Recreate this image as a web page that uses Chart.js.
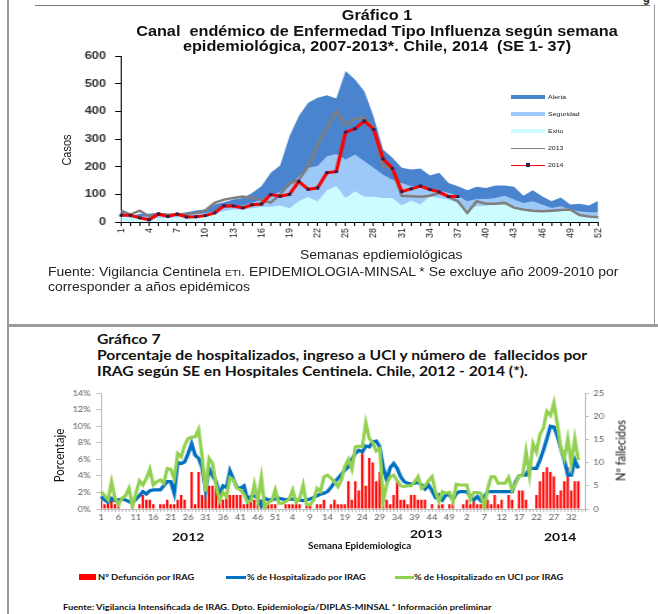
<!DOCTYPE html>
<html><head><meta charset="utf-8">
<script src="https://cdn.jsdelivr.net/npm/chart.js@4.4.0/dist/chart.umd.min.js"></script>
<style>
body{margin:0;background:#fff;width:658px;height:614px;position:relative;overflow:hidden;font-family:"Liberation Sans",Arial,sans-serif;}
.a{position:absolute;white-space:nowrap;}
.sx{transform:scaleX(1.16);transform-origin:0 50%;}
canvas{position:absolute;transform:scaleX(1.1605);transform-origin:0 0;}
.t1{font-weight:bold;font-size:14px;color:#111;text-align:center;left:77px;width:600px;transform:scaleX(1.16);transform-origin:50% 50%;}
.t2{font-family:Lato,"Open Sans",sans-serif;font-weight:bold;font-size:13.5px;color:#111;left:97px;}
.lg1{font-size:6px;color:#222;}
.lg2{font-family:Lato,sans-serif;font-weight:bold;font-size:8px;color:#111;}
.rot{transform:scaleX(1.16) rotate(-90deg);transform-origin:50% 50%;text-align:center;}
</style></head><body>
<!-- borders -->
<div class="a" style="left:7px;top:0;width:2px;height:614px;background:#9a9a9a"></div>
<div class="a" style="left:35px;top:5px;width:615px;height:1px;background:#777"></div>
<div class="a" style="left:654px;top:5px;width:1px;height:320px;background:#999"></div>
<div class="a" style="left:7px;top:324px;width:651px;height:3px;background:#9a9a9a"></div>
<div class="a" style="left:643px;top:-6px;font-weight:bold;font-size:12px;color:#333">9</div>

<canvas id="c1" width="567" height="270" style="left:0;top:0"></canvas>
<canvas id="c2" width="567" height="150" style="left:0;top:380px"></canvas>

<div class="a t1" style="top:7px">Gráfico 1</div>
<div class="a t1" style="top:23px">Canal&nbsp; endémico de Enfermedad Tipo Influenza según semana</div>
<div class="a t1" style="top:38px">epidemiológica, 2007-2013*. Chile, 2014&nbsp; (SE 1- 37)</div>

<div class="a rot" style="left:46px;top:144px;width:40px;font-size:11px;color:#222">Casos</div>
<div class="a sx" style="left:300px;top:248px;font-size:12px;color:#222">Semanas epdiemiológicas</div>
<div class="a sx" style="left:48px;top:265px;font-size:12px;color:#222">Fuente: Vigilancia Centinela <span style="font-size:9px">ETI</span>. EPIDEMIOLOGIA-MINSAL * Se excluye año 2009-2010 por</div>
<div class="a sx" style="left:48px;top:280px;font-size:12px;color:#222">corresponder a años epidémicos</div>

<!-- legend chart 1 -->
<div class="a" style="left:511px;top:95px;width:34px;height:4px;background:#4a84cf"></div>
<div class="a lg1 sx" style="left:548px;top:94px">Alerta</div>
<div class="a" style="left:511px;top:112px;width:34px;height:4px;background:#9cc9f7"></div>
<div class="a lg1 sx" style="left:548px;top:111px">Seguridad</div>
<div class="a" style="left:511px;top:129px;width:34px;height:4px;background:#ccfcff"></div>
<div class="a lg1 sx" style="left:548px;top:128px">Exito</div>
<div class="a" style="left:511px;top:148px;width:34px;height:1px;background:#808080"></div>
<div class="a lg1 sx" style="left:548px;top:145px">2013</div>
<div class="a" style="left:511px;top:165px;width:34px;height:1px;background:#ff0000"></div>
<div class="a" style="left:526px;top:163px;width:4px;height:4px;background:#202050"></div>
<div class="a lg1 sx" style="left:548px;top:162px">2014</div>

<div class="a t2 sx" style="top:331px">Gráfico 7</div>
<div class="a t2 sx" style="top:347px">Porcentaje de hospitalizados, ingreso a UCI y número de&nbsp; fallecidos por</div>
<div class="a t2 sx" style="top:363px">IRAG según SE en Hospitales Centinela. Chile, 2012 - 2014 (*).</div>

<div class="a rot" style="left:19px;top:449px;width:80px;font-family:Lato,sans-serif;font-size:11.5px;color:#111">Porcentaje</div>
<div class="a rot" style="left:580px;top:444px;width:80px;font-family:Lato,sans-serif;font-size:11px;color:#111">Nº fallecidos</div>
<div class="a sx" style="left:172px;top:529px;font-family:Lato,sans-serif;font-weight:bold;font-size:12px;color:#111">2012</div>
<div class="a sx" style="left:410px;top:526px;font-family:Lato,sans-serif;font-weight:bold;font-size:12px;color:#111">2013</div>
<div class="a sx" style="left:544px;top:529px;font-family:Lato,sans-serif;font-weight:bold;font-size:12px;color:#111">2014</div>
<div class="a sx" style="left:308px;top:541px;font-family:Lato,sans-serif;font-weight:bold;font-size:8.5px;color:#111">Semana Epidemiologica</div>

<!-- legend chart 2 -->
<div class="a" style="left:79px;top:574px;width:17px;height:6px;background:#ff0000"></div>
<div class="a lg2 sx" style="left:98px;top:572px">Nº Defunción por IRAG</div>
<div class="a" style="left:226px;top:576px;width:20px;height:3px;background:#0070c0"></div>
<div class="a lg2 sx" style="left:247px;top:572px">% de Hospitalizado por IRAG</div>
<div class="a" style="left:395px;top:576px;width:19px;height:3px;background:#92d050"></div>
<div class="a lg2 sx" style="left:414px;top:572px">% de Hospitalizado en UCI por IRAG</div>

<div class="a lg2 sx" style="left:63px;top:602px">Fuente: Vigilancia Intensificada de IRAG. Dpto. Epidemiología/DIPLAS-MINSAL * Información preliminar</div>

<script>
// ---------- Gráfico 1 data ----------
const semanas = ['1','2','3','4','5','6','7','8','9','10','11','12','13','14','15','16','17','18','19','20','21','22','23','24','25','26','27','28','29','30','31','32','33','34','35','36','37','38','39','40','41','42','43','44','45','46','47','48','49','50','51','52'];
const alerta = [39,20,30,30,33,30,30,35,42,45,63,71,81,87,105,129,178,204,310,383,431,449,458,446,546,515,473,380,262,232,196,190,193,168,178,141,129,115,127,123,132,132,127,95,115,93,75,89,63,66,60,77];
const seguridad = [28,22,20,20,22,22,25,28,30,32,40,50,55,60,70,80,93,110,129,165,196,202,238,246,226,244,220,196,171,153,141,129,127,117,115,105,95,75,83,83,87,95,81,69,75,63,51,57,45,39,35,35];
const exito = [20,15,15,12,15,15,17,18,18,20,30,40,45,45,50,55,55,60,50,75,90,75,115,130,87,111,91,91,87,87,60,78,63,93,87,81,69,45,57,59,63,69,57,51,45,39,35,39,42,27,23,20];
const casos2013 = [41,27,41,20,30,25,28,28,33,42,69,81,87,92,87,80,70,100,139,153,202,280,340,401,350,373,377,340,202,192,95,93,91,95,105,91,75,33,75,66,66,69,52,45,41,39,41,43,45,25,20,17];
const casos2014 = [24,24,15,8,29,20,29,18,19,23,33,59,58,51,62,65,99,93,100,147,118,123,178,182,325,337,365,335,228,194,110,120,130,117,109,92,92];
const ticksCasos = [0,100,200,300,400,500,600];

// ---------- Gráfico 7 data ----------
const hosp2012 = [1.5,1.1,0.8,1.3,1.0,1.1,1.2,1.1,0.9,0.7,1.2,1.6,2.1,1.8,2.2,2.3,2.3,2.3,2.8,3.3,3.3,1.9,5.6,5.5,5.7,6.7,7.9,6.5,6.1,5.0,2.3,4.9,4.0,3.3,1.7,2.8,2.6,4.6,3.6,2.6,2.5,2.8,1.2,1.5,1.6,1.3,0.4,1.3,1.1,1.1,1.2,1.3];
const hosp2013 = [1.2,1.1,1.2,1.2,1.1,1.1,1.0,1.1,1.2,1.4,1.6,1.8,1.9,2.1,2.6,3.2,3.7,4.2,4.7,5.1,6.0,6.7,7.1,6.9,7.6,7.5,8.1,8.2,7.5,5.0,3.5,5.0,5.5,4.9,3.9,3.3,3.1,3.0,3.1,3.2,2.9,2.4,2.9,2.2,1.4,1.7,1.1,1.7,1.7,1.1,1.9,2.1];
const hosp2014 = [2.1,2.1,1.5,1.1,1.5,1.0,1.5,2.1,2.1,2.1,2.1,2.1,2.1,2.1,2.1,3.3,4.0,4.1,4.1,4.9,4.9,4.9,5.9,7.1,8.5,10.0,9.9,8.8,7.3,5.9,4.1,4.1,5.9,4.9];
const uci2012 = [2.1,1.6,1.1,3.3,1.3,0.5,1.3,1.6,2.5,0.3,1.9,3.4,2.9,3.7,4.8,2.9,3.3,3.5,3.1,4.9,4.8,3.7,6.7,6.3,7.7,8.5,8.7,8.7,9.6,6.3,2.1,6.1,5.5,2.9,1.0,2.0,1.5,3.8,3.5,2.5,2.3,1.8,0.8,1.0,3.0,1.0,3.8,0.1,0.8,1.0,2.3,0.7];
const uci2013 = [0.7,0.9,1.2,2.3,0.8,1.3,2.9,0.5,0.5,1.1,2.5,2.1,3.9,4.1,3.7,3.3,2.7,3.5,5.2,6.0,4.8,7.5,7.6,7.5,10.4,8.5,8.0,7.0,7.3,0.9,3.0,3.9,4.1,3.4,2.8,2.7,2.8,2.8,3.3,3.9,2.5,2.8,3.4,3.9,2.1,0.9,2.1,1.9,2.0,0.9,3.0,2.9];
const uci2014 = [2.9,2.9,1.1,2.0,2.0,1.9,0.1,2.5,3.9,3.9,3.1,3.1,3.1,3.8,2.3,3.1,4.0,4.0,6.9,4.1,7.9,6.9,9.0,9.8,11.8,11.3,12.8,10.2,7.3,6.1,8.5,5.5,8.5,5.9];
const def2012 = [2,1,2,2,1,1,0,0,0,1,0,1,3,2,2,1,0,1,1,2,1,1,2,3,2,0,8,1,8,3,4,5,5,6,4,2,3,3,3,3,3,1,2,2,2,1,2,0,1,1,1,0];
const def2013 = [0,1,1,1,2,1,0,1,1,0,1,1,2,0,1,2,1,1,1,6,2,6,4,12,5,11,10,6,8,1,2,1,3,6,2,2,1,3,3,2,2,2,0,1,0,1,1,0,1,2,0,0];
const def2014 = [1,2,1,2,1,1,1,2,1,3,1,2,0,3,2,0,4,4,2,0,0,3,6,8,9,8,7,3,4,6,9,4,6,6];
const semanasSE = semanas.concat(semanas, semanas.slice(0, 36));

Chart.defaults.font.family = '"Liberation Sans", Arial, sans-serif';

new Chart(document.getElementById('c1'), {
  type: 'line',
  data: {
    labels: semanas,
    datasets: [
      {label:'2014', data:casos2014, borderColor:'#ff0000', borderWidth:3, fill:false, tension:0,
       pointStyle:'rect', pointRadius:2, pointBackgroundColor:'#202050', pointBorderColor:'#202050', pointBorderWidth:0, order:1},
      {label:'2013', data:casos2013, borderColor:'#7f7f7f', borderWidth:2.5, fill:false, tension:0, pointRadius:0, order:2},
      {label:'Exito', data:exito, borderColor:'rgba(0,0,0,0)', borderWidth:0, backgroundColor:'#ccfcff', fill:'origin', pointRadius:0, tension:0, order:3},
      {label:'Seguridad', data:seguridad, borderColor:'rgba(0,0,0,0)', borderWidth:0, backgroundColor:'#9cc9f7', fill:'origin', pointRadius:0, tension:0, order:4},
      {label:'Alerta', data:alerta, borderColor:'rgba(0,0,0,0)', borderWidth:0, backgroundColor:'#4a84cf', fill:'origin', pointRadius:0, tension:0, order:5}
    ]
  },
  options: {
    responsive:false, animation:false,
    plugins:{legend:{display:false}, tooltip:{enabled:false}},
    layout:{padding:{top:56, right:51.5, left:0, bottom:0}},
    scales:{
      x:{type:'category', offset:false,
        grid:{display:true, drawOnChartArea:false, drawTicks:true, tickLength:4, color:'#000'},
        border:{display:true, color:'#000', width:1},
        ticks:{autoSkip:false, maxRotation:90, minRotation:90, padding:2, color:'#222', font:{size:9},
          callback:(v,i)=> i%3===0 ? semanas[i] : ''},
        afterFit:s=>{s.height=48;}},
      y:{min:0, max:600,
        grid:{display:true, drawOnChartArea:false, drawTicks:true, tickLength:5, color:'#000'},
        border:{display:true, color:'#000', width:1},
        afterBuildTicks:s=>{s.ticks = ticksCasos.map(v=>({value:v}));},
        ticks:{padding:8, color:'#333', font:{size:11, weight:'bold'}},
        afterFit:s=>{s.width=104.3;}}
    }
  }
});

new Chart(document.getElementById('c2'), {
  type: 'bar',
  data: {
    labels: semanasSE,
    datasets: [
      {type:'line', label:'% de Hospitalizado en UCI por IRAG', data:uci2012.concat(uci2013, uci2014), yAxisID:'y',
       borderColor:'#92d050', borderWidth:3, pointRadius:0, tension:0, order:1},
      {type:'line', label:'% de Hospitalizado por IRAG', data:hosp2012.concat(hosp2013, hosp2014), yAxisID:'y',
       borderColor:'#0070c0', borderWidth:3.2, pointRadius:0, tension:0, order:2},
      {type:'bar', label:'Nº Defunción por IRAG', data:def2012.concat(def2013, def2014), yAxisID:'y1',
       backgroundColor:'#ff0000', barPercentage:0.8, categoryPercentage:0.85, order:3}
    ]
  },
  options: {
    responsive:false, animation:false,
    plugins:{legend:{display:false}, tooltip:{enabled:false}},
    layout:{padding:{top:13, right:0, left:0, bottom:0}},
    scales:{
      x:{offset:false,
        grid:{display:true, offset:false, drawOnChartArea:false, drawTicks:true, tickLength:3, color:'#bdbdbd'},
        border:{display:true, color:'#bdbdbd'},
        ticks:{autoSkip:false, maxRotation:0, minRotation:0, padding:1, color:'#595959', font:{size:8, family:'Lato'},
          callback:(v,i)=> i%5===0 ? semanasSE[i] : ''},
        afterFit:s=>{s.height=21;}},
      y:{position:'left', min:0, max:14,
        grid:{display:true, drawOnChartArea:false, drawTicks:true, tickLength:4, color:'#bdbdbd'},
        border:{display:true, color:'#bdbdbd'},
        ticks:{stepSize:2, padding:5, color:'#595959', font:{size:8, family:'Lato'}, callback:v=>v+'%'},
        afterFit:s=>{s.width=87.1;}},
      y1:{position:'right', min:0, max:25,
        grid:{display:true, drawOnChartArea:false, drawTicks:true, tickLength:3, color:'#bdbdbd'},
        border:{display:true, color:'#bdbdbd'},
        ticks:{stepSize:5, padding:4, color:'#595959', font:{size:8, family:'Lato'}},
        afterFit:s=>{s.width=62.7;}}
    }
  }
});
</script>
</body></html>
